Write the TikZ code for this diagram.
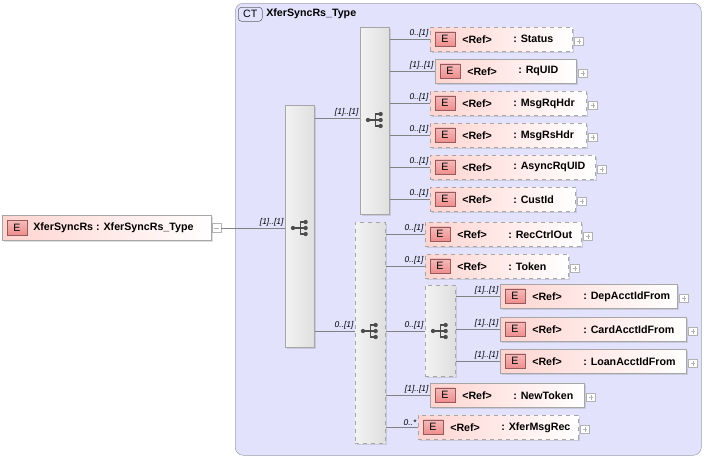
\documentclass[tikz,border=0pt]{standalone}
\usepackage{fontspec}
\setmainfont{Liberation Sans}
\usetikzlibrary{shadows}
\definecolor{ctfill}{RGB}{226,226,253}
\definecolor{ctline}{RGB}{160,160,175}
\definecolor{elpink}{RGB}{255,212,208}
\definecolor{epink}{RGB}{238,140,140}
\definecolor{eline}{RGB}{150,90,90}
\definecolor{conn}{RGB}{130,130,130}
\tikzset{
  el/.style={draw=gray!70, left color=elpink, right color=white, inner sep=0pt,
    drop shadow={opacity=0.25,shadow xshift=1.2pt,shadow yshift=-1.2pt}},
  eldash/.style={el, dashed},
  ebox/.style={draw=eline, top color=epink!60, bottom color=epink, minimum width=15pt, minimum height=11pt, inner sep=0pt, font=\fontsize{8}{8}\selectfont},
  seq/.style={draw=gray!70, left color=gray!10, right color=gray!25, inner sep=0pt,
    drop shadow={opacity=0.25,shadow xshift=1.2pt,shadow yshift=-1.2pt}},
  seqdash/.style={seq, dashed},
  card/.style={font=\fontsize{6.3}{7}\selectfont\itshape, anchor=south east, inner sep=1pt},
  txt/.style={font=\fontsize{8}{9}\selectfont\bfseries, anchor=west, inner sep=0pt},
  pl/.style={draw=gray!60, fill=white, minimum size=6.5pt, inner sep=0pt},
  ln/.style={draw=conn, line width=0.5pt},
}
\newcommand\myel[6]{% name, left x, top y, width, label, style
  \node[#6, anchor=north west, minimum width={#4*0.75pt}, minimum height={24*0.75pt}] (#1) at (#2,#3) {};
  \node[ebox] (#1e) at ([xshift={15*0.75pt}]#1.west) {E};
  \node[txt] (#1r) at ([xshift={32*0.75pt}]#1.west) {<Ref>};
  \node[txt] (#1n) at ([xshift={83*0.75pt}]#1.west) {: #5};
  \node[pl] (#1p) at ([xshift={6.5*0.75pt},yshift={-2*0.75pt}]#1.east) {};
  \draw[gray!60,line width=0.4pt] ([xshift=-1.8pt]#1p.center) -- ([xshift=1.8pt]#1p.center) ([yshift=-1.8pt]#1p.center) -- ([yshift=1.8pt]#1p.center);
}
\newcommand\seqicon[1]{%
  \fill[black!70] ([xshift=-6pt]#1) circle (1.6pt);
  \draw[black!70,line width=0.8pt] ([xshift=-6pt]#1) -- ([xshift=-0.5pt]#1)
    ([xshift=-0.5pt,yshift=-4.5pt]#1) -- ([xshift=-0.5pt,yshift=4.5pt]#1)
    ([xshift=-0.5pt,yshift=-4.5pt]#1) -- ([xshift=3.5pt,yshift=-4.5pt]#1)
    ([xshift=-0.5pt,yshift=4.5pt]#1) -- ([xshift=3.5pt,yshift=4.5pt]#1)
    ([xshift=-0.5pt]#1) -- ([xshift=3.5pt]#1);
  \fill[black!70] ([xshift=3.5pt,yshift=4.5pt]#1) circle (1.6pt) ([xshift=3.5pt]#1) circle (1.6pt) ([xshift=3.5pt,yshift=-4.5pt]#1) circle (1.6pt);
}
\begin{document}
\begin{tikzpicture}[x=0.75pt,y=-0.75pt]
\useasboundingbox (0,0) rectangle (705,458);
% complex type
\node[draw=ctline, fill=ctfill, rounded corners=6pt, anchor=north west, minimum width={466*0.75pt}, minimum height={452*0.75pt}] (ct) at (235,3) {};
\node[draw=ctline!60!black, fill=ctfill!70!blue!30, rounded corners=2.5pt, anchor=north west, minimum width={24*0.75pt}, minimum height={14*0.75pt}, inner sep=0pt, font=\fontsize{8}{8}\selectfont] (ctl) at (238,7) {CT};
\node[txt] (ctn) at (266,14) {XferSyncRs\_Type};
% root
\node[draw=gray!70, left color=elpink, right color=white, anchor=north west, minimum width={209*0.75pt}, minimum height={25*0.75pt},drop shadow={opacity=0.25,shadow xshift=1.2pt,shadow yshift=-1.2pt}] (root) at (2,215) {};
\node[ebox] (roote) at (17,228) {E};
\node[txt] (rootn) at (33,228) {XferSyncRs : XferSyncRs\_Type};
\node[pl] (rootm) at (216.5,228) {};
\draw[gray!60,line width=0.4pt] ([xshift=-1.8pt]rootm.center) -- ([xshift=1.8pt]rootm.center);
% sequences
\node[seq, anchor=north west, minimum width={29*0.75pt}, minimum height={242*0.75pt}] (s0) at (285,105) {};
\node[seq, anchor=north west, minimum width={29*0.75pt}, minimum height={187*0.75pt}] (s1) at (360,27) {};
\node[seqdash, anchor=north west, minimum width={30*0.75pt}, minimum height={221*0.75pt}] (s2) at (355,222) {};
\node[seqdash, anchor=north west, minimum width={30*0.75pt}, minimum height={91*0.75pt}] (ch) at (425,285) {};
\coordinate (i0) at (301,228); \seqicon{i0}
\coordinate (i1) at (376,120); \seqicon{i1}
\coordinate (i2) at (371,331); \seqicon{i2}
\coordinate (i3) at (441,331); \seqicon{i3}
\draw[ln] (rootm.east) -- (s0.west |- rootm.east) node[card, pos=1] {[1]..[1]};
\draw[ln] (s0.east |- 0,118) -- (s1.west |- 0,118) node[card, pos=1] {[1]..[1]};
\draw[ln] (s0.east |- 0,331) -- (s2.west |- 0,331) node[card, pos=1] {0..[1]};
% seq1 children
\myel{st}{430}{27}{142}{Status}{eldash}
\myel{rq}{435}{59}{141}{RqUID}{el}
\myel{mq}{430}{91}{156}{MsgRqHdr}{eldash}
\myel{ms}{430}{123}{156}{MsgRsHdr}{eldash}
\myel{as}{430}{155}{165}{AsyncRqUID}{eldash}
\myel{cu}{430}{187}{145}{CustId}{eldash}
\foreach \n/\c in {st/0..[1],rq/[1]..[1],mq/0..[1],ms/0..[1],as/0..[1],cu/0..[1]}
  \draw[ln] (s1.east |- \n.west) -- (\n.west) node[card, pos=1] {\c};
% seq2 children
\myel{rc}{425}{222}{156}{RecCtrlOut}{eldash}
\myel{tk}{425}{254}{143}{Token}{eldash}
\myel{nt}{430}{383}{154}{NewToken}{el}
\myel{xm}{418}{415}{160}{XferMsgRec}{eldash}
\foreach \n/\c in {rc/0..[1],tk/0..[1],nt/[1]..[1],xm/0..*}
  \draw[ln] (s2.east |- \n.west) -- (\n.west) node[card, pos=1] {\c};
\draw[ln] (s2.east |- 0,331) -- (ch.west |- 0,331) node[card, pos=1] {0..[1]};
% choice children
\myel{dp}{500}{284}{177}{DepAcctIdFrom}{el}
\myel{cd}{500}{317}{186}{CardAcctIdFrom}{el}
\myel{lo}{500}{349}{186}{LoanAcctIdFrom}{el}
\foreach \n in {dp,cd,lo}
  \draw[ln] (ch.east |- \n.west) -- (\n.west) node[card, pos=1] {[1]..[1]};
\end{tikzpicture}
\end{document}
